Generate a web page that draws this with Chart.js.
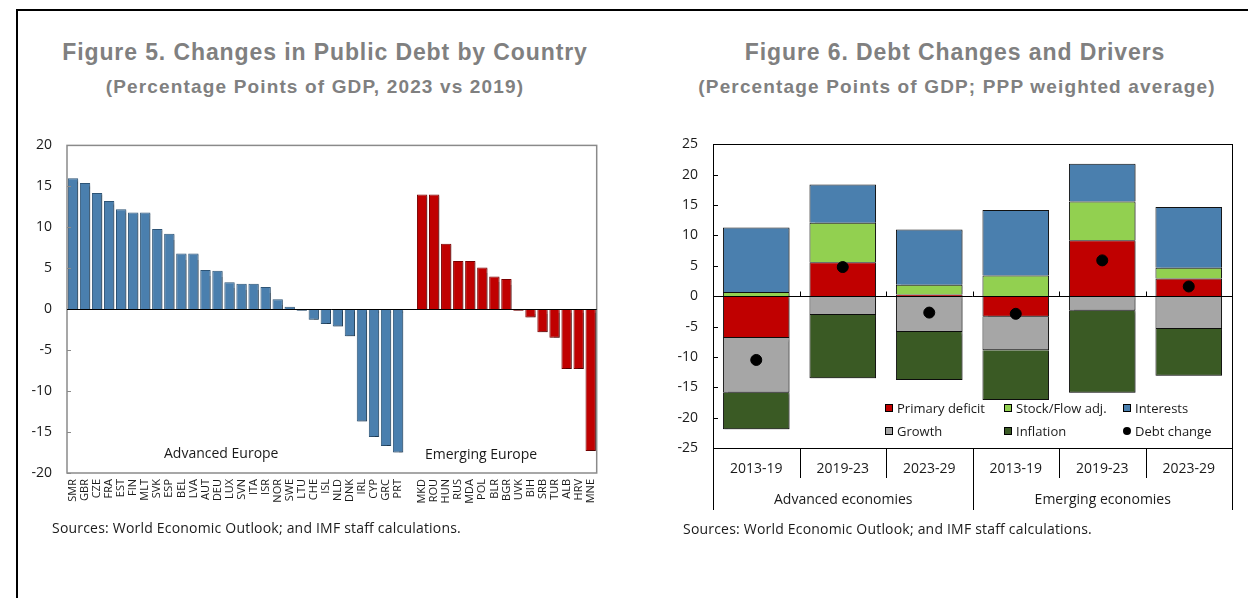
<!DOCTYPE html>
<html>
<head>
<meta charset="utf-8">
<title>Public Debt Changes</title>
<script src="https://cdn.jsdelivr.net/npm/chart.js@4.4.1/dist/chart.umd.min.js"></script>
<style>
  body { margin: 0; width: 1248px; height: 598px; background: #fff; position: relative; overflow: hidden; font-family: 'Open Sans', sans-serif; }
  .frame { position: absolute; left: 16px; top: 9px; right: -4px; bottom: -4px; border-left: 2px solid #000; border-top: 2px solid #000; }
  .title { position: absolute; width: 600px; text-align: center; white-space: nowrap; font-family: 'Liberation Sans', Arial, sans-serif; font-weight: bold; color: #808080; }
  .title.main { font-size: 23px; line-height: 26px; top: 39px; letter-spacing: 0.9px; }
  .title.sub { font-size: 19px; line-height: 22px; top: 76px; letter-spacing: 1.15px; }
  .note { position: absolute; font-size: 14px; line-height: 18px; color: #1a1a1a; white-space: nowrap; letter-spacing: 0.2px; }
  .group { position: absolute; font-size: 14px; line-height: 18px; color: #1a1a1a; white-space: nowrap; }
  canvas { position: absolute; }
</style>
</head>
<body>
<div class="frame"></div>

<div class="title main" style="left:25px">Figure 5. Changes in Public Debt by Country</div>
<div class="title sub" style="left:15px">(Percentage Points of GDP, 2023 vs 2019)</div>
<div class="title main" style="left:655px">Figure 6. Debt Changes and Drivers</div>
<div class="title sub" style="left:657px">(Percentage Points of GDP; PPP weighted average)</div>

<canvas id="country-chart" width="590" height="408" style="left:20px; top:122px"></canvas>
<canvas id="drivers-chart" width="583" height="399" style="left:660px; top:121px"></canvas>

<div class="group" style="left:164px; top:444px">Advanced Europe</div>
<div class="group" style="left:425px; top:445px">Emerging Europe</div>

<div class="note" style="left:52px; top:519px">Sources: World Economic Outlook; and IMF staff calculations.</div>
<div class="note" style="left:683px; top:520px">Sources: World Economic Outlook; and IMF staff calculations.</div>

<script>
// ── Figure 5 data: change in debt, pp of GDP ──
const advancedCodes  = ['SMR','GBR','CZE','FRA','EST','FIN','MLT','SVK','ESP','BEL','LVA','AUT','DEU','LUX','SVN','ITA','ISR','NOR','SWE','LTU','CHE','ISL','NLD','DNK','IRL','CYP','GRC','PRT'];
const advancedChange = [16.0, 15.4, 14.2, 13.2, 12.2, 11.8, 11.8, 9.8, 9.2, 6.8, 6.8, 4.8, 4.7, 3.3, 3.1, 3.1, 2.7, 1.2, 0.3, -0.2, -1.3, -1.8, -2.1, -3.3, -13.7, -15.6, -16.7, -17.5];
const emergingCodes  = ['MKD','ROU','HUN','RUS','MDA','POL','BLR','BGR','UVK','BIH','SRB','TUR','ALB','HRV','MNE'];
const emergingChange = [14.0, 14.0, 8.0, 5.9, 5.9, 5.1, 4.0, 3.7, -0.2, -1.0, -2.8, -3.5, -7.3, -7.3, -17.3];
const countryTicks   = [-20, -15, -10, -5, 0, 5, 10, 15, 20];

// ── Figure 6 data: debt drivers by period ──
const periods        = ['2013-19','2019-23','2023-29','2013-19','2019-23','2023-29'];
const groups         = ['Advanced economies', 'Emerging economies'];
const primaryDeficit = [-6.9, 5.6, 0.3, -3.4, 9.2, 2.9];
const stockFlow      = [0.7, 6.5, 1.6, 3.4, 6.4, 1.8];
const interests      = [10.6, 6.3, 9.1, 10.8, 6.2, 10.0];
const growth         = [-9.0, -3.1, -5.9, -5.5, -2.4, -5.4];
const inflation      = [-6.0, -10.4, -7.9, -8.2, -13.5, -7.7];
const debtChange     = [-10.5, 4.8, -2.7, -2.9, 5.9, 1.6];

const BLUE = '#4a7fae';
const RED = '#c00000';
const TEXT = '#1a1a1a';

Chart.defaults.font.family = "'Open Sans', sans-serif";
Chart.defaults.color = TEXT;
Chart.defaults.animation = false;
Chart.defaults.plugins.tooltip.enabled = false;
Chart.defaults.plugins.legend.display = false;


// soft drop shadow under the bars
const barShadow = {
  id: 'barShadow',
  beforeDatasetDraw(chart, args) {
    if (args.meta.type !== 'bar') return;
    const ctx = chart.ctx;
    ctx.save();
    ctx.shadowColor = 'rgba(0,0,0,0.35)';
    ctx.shadowOffsetX = 1.5;
    ctx.shadowOffsetY = 1.5;
    ctx.shadowBlur = 1.5;
  },
  afterDatasetDraw(chart, args) {
    if (args.meta.type !== 'bar') return;
    chart.ctx.restore();
  }
};

function hLine(ctx, x1, x2, y) {
  ctx.beginPath(); ctx.moveTo(x1, y); ctx.lineTo(x2, y); ctx.stroke();
}
function vLine(ctx, x, y1, y2) {
  ctx.beginPath(); ctx.moveTo(x, y1); ctx.lineTo(x, y2); ctx.stroke();
}


// ── Figure 5: bars by country ─────────────────
const gap = [null];
const countryLabels = [...advancedCodes, '', ...emergingCodes];
const advData = [...advancedChange, ...gap, ...emergingCodes.map(() => null)];
const emData  = [...advancedCodes.map(() => null), ...gap, ...emergingChange];

const countryFrame = {
  id: 'countryFrame',
  afterDraw(chart) {
    const { ctx, chartArea: a, scales: { y } } = chart;
    ctx.save();
    ctx.strokeStyle = '#8a8a8a';
    ctx.lineWidth = 1.5;
    ctx.strokeRect(a.left, a.top, a.width, a.height);
    ctx.lineWidth = 1;
    y.ticks.forEach(t => {
      const py = Math.round(y.getPixelForValue(t.value)) + 0.5;
      hLine(ctx, a.left, a.left + 4, py);
    });
    ctx.strokeStyle = '#000';
    hLine(ctx, a.left, a.right, Math.round(y.getPixelForValue(0)) + 0.5);
    ctx.restore();
  }
};

new Chart(document.getElementById('country-chart'), {
  type: 'bar',
  data: {
    labels: countryLabels,
    datasets: [
      { label: 'Advanced Europe', data: advData, backgroundColor: BLUE, borderColor: '#2e5577', borderWidth: 1 },
      { label: 'Emerging Europe', data: emData, backgroundColor: RED, borderColor: '#7a0000', borderWidth: 1 }
    ]
  },
  options: {
    responsive: false,
    layout: { padding: { top: 7, right: 11, bottom: 0, left: 0 } },
    datasets: { bar: { grouped: false, barPercentage: 0.86, categoryPercentage: 1.0 } },
    scales: {
      x: {
        grid: { display: false, drawTicks: false },
        border: { display: false },
        ticks: { autoSkip: false, minRotation: 90, maxRotation: 90, padding: 6, font: { size: 11 } },
        afterFit(scale) { scale.height = 57; }
      },
      y: {
        min: -20, max: 20,
        grid: { display: false, drawTicks: false },
        border: { display: false },
        afterBuildTicks(scale) { scale.ticks = countryTicks.map(v => ({ value: v })); },
        ticks: { padding: 15, font: { size: 14 } },
        afterFit(scale) { scale.width = 47; }
      }
    }
  },
  plugins: [barShadow, countryFrame]
});


// ── Figure 6: stacked drivers + debt change ───
const driverDatasets = [
  { label: 'Primary deficit', data: primaryDeficit, backgroundColor: RED },
  { label: 'Stock/Flow adj.', data: stockFlow, backgroundColor: '#92d050' },
  { label: 'Interests', data: interests, backgroundColor: BLUE },
  { label: 'Growth', data: growth, backgroundColor: '#a6a6a6' },
  { label: 'Inflation', data: inflation, backgroundColor: '#3a5a24' }
].map(d => ({ ...d, type: 'bar', stack: 'drivers', order: 1, borderColor: '#111', borderWidth: 1 }));

// dots sit on top of the bars
const debtDots = {
  type: 'line', label: 'Debt change', data: debtChange, stack: 'dots', order: 0,
  showLine: false, pointRadius: 5.5, pointBackgroundColor: '#000', pointBorderColor: '#000'
};

const driversFrame = {
  id: 'driversFrame',
  afterDraw(chart) {
    const { ctx, chartArea: a, scales: { x, y } } = chart;
    const deep = a.bottom + 62;
    const mid = a.bottom + 30;
    const bounds = [];
    for (let i = 1; i < periods.length; i++) {
      bounds.push(Math.round((x.getPixelForValue(i - 1) + x.getPixelForValue(i)) / 2) + 0.5);
    }
    ctx.save();
    ctx.strokeStyle = '#000';
    ctx.lineWidth = 1;
    ctx.strokeRect(Math.round(a.left) + 0.5, Math.round(a.top) + 0.5, Math.round(a.width), Math.round(a.height));
    vLine(ctx, Math.round(a.left) + 0.5, a.bottom, deep);
    vLine(ctx, Math.round(a.right) + 0.5, a.bottom, deep);

    // zero line with small boundary ticks
    const zy = Math.round(y.getPixelForValue(0)) + 0.5;
    hLine(ctx, a.left, a.right, zy);
    bounds.forEach(bx => vLine(ctx, bx, zy, zy - 5));

    // inward value ticks
    y.ticks.forEach(t => {
      const py = Math.round(y.getPixelForValue(t.value)) + 0.5;
      hLine(ctx, a.left, a.left + 5, py);
    });

    // category separators, longer one between the two groups
    bounds.forEach((bx, i) => vLine(ctx, bx, a.bottom, i === 2 ? deep : mid));

    // group labels
    ctx.fillStyle = TEXT;
    ctx.font = "14px 'Open Sans', sans-serif";
    ctx.textAlign = 'center';
    ctx.textBaseline = 'middle';
    ctx.fillText(groups[0], (a.left + bounds[2]) / 2, a.bottom + 52);
    ctx.fillText(groups[1], (bounds[2] + a.right) / 2, a.bottom + 52);

    // legend in the lower part of the plot
    ctx.font = "13px 'Open Sans', sans-serif";
    ctx.textAlign = 'left';
    const items = chart.data.datasets;
    items.forEach((ds, i) => {
      const col = i % 3, row = Math.floor(i / 3);
      const lx = a.left + 172 + col * 119;
      const ly = a.bottom - 40 + row * 23;
      if (ds.type === 'line') {
        ctx.fillStyle = '#000';
        ctx.beginPath(); ctx.arc(lx + 4, ly, 4, 0, Math.PI * 2); ctx.fill();
      } else {
        ctx.fillStyle = ds.backgroundColor;
        ctx.fillRect(lx, ly - 4, 8, 8);
        ctx.strokeStyle = '#000';
        ctx.strokeRect(lx + 0.5, ly - 3.5, 7, 7);
      }
      ctx.fillStyle = TEXT;
      ctx.fillText(ds.label, lx + 12, ly + 1);
    });
    ctx.restore();
  }
};

new Chart(document.getElementById('drivers-chart'), {
  type: 'bar',
  data: { labels: periods, datasets: [...driverDatasets, debtDots] },
  options: {
    responsive: false,
    layout: { padding: { top: 5, right: 11, bottom: 2, left: 0 } },
    datasets: { bar: { barPercentage: 0.77, categoryPercentage: 1.0 } },
    scales: {
      x: {
        stacked: true,
        grid: { display: false, drawTicks: false },
        border: { display: false },
        ticks: { padding: 13, font: { size: 14 } },
        afterFit(scale) { scale.height = 70; }
      },
      y: {
        stacked: true,
        min: -25, max: 25,
        grid: { display: false, drawTicks: false },
        border: { display: false },
        ticks: { stepSize: 5, padding: 15, font: { size: 14 } },
        afterFit(scale) { scale.width = 53; }
      }
    }
  },
  plugins: [barShadow, driversFrame]
});
</script>
</body>
</html>
